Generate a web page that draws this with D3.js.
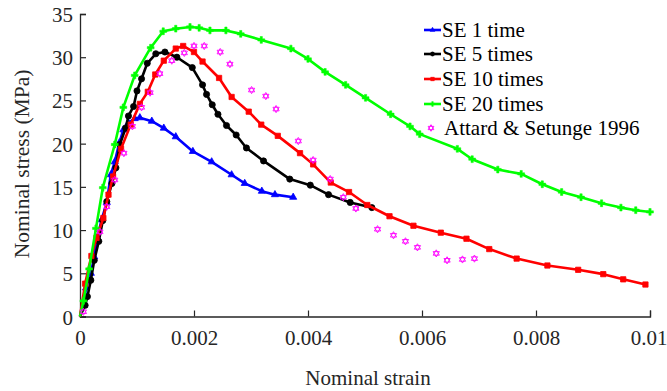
<!DOCTYPE html>
<html>
<head>
<meta charset="utf-8">
<script src="https://cdn.jsdelivr.net/npm/d3@7"></script>
<style>
  body { margin: 0; background: #fff; }
  svg { display: block; font-family: "Liberation Serif", "Times New Roman", serif; }
</style>
</head>
<body>
<svg id="chart" width="667" height="391"></svg>
<script>
// axis ticks
const xTicks = [0, 0.002, 0.004, 0.006, 0.008, 0.01];
const yTicks = [0, 5, 10, 15, 20, 25, 30, 35];

// SE 1 time
const se1Strain = [0, 0.00007, 0.000105, 0.00019, 0.00025, 0.0003, 0.00038, 0.00047, 0.00054, 0.00061, 0.00069, 0.00076, 0.00085, 0.00096, 0.00105, 0.00126, 0.00147, 0.00168, 0.00198, 0.00231, 0.00266, 0.00289, 0.00319, 0.00342, 0.00374];
const se1Stress = [0, 1.3, 3.3, 5.0, 6.9, 9.1, 11.2, 13.2, 16.4, 17.9, 20.1, 21.6, 22.4, 22.9, 23.0, 22.6, 21.8, 20.8, 19.1, 17.9, 16.4, 15.4, 14.5, 14.1, 13.8];

// SE 5 times
const se5Strain = [0, 0.00009, 0.00013, 0.00019, 0.00025, 0.00033, 0.0004, 0.00047, 0.00056, 0.00063, 0.0007, 0.0008, 0.00085, 0.00094, 0.001, 0.00108, 0.00118, 0.00133, 0.00149, 0.0017, 0.00197, 0.00215, 0.00222, 0.00232, 0.00242, 0.00257, 0.00274, 0.00292, 0.00322, 0.00368, 0.00404, 0.00436, 0.00474, 0.00512];
const se5Stress = [0, 1.3, 2.3, 4.2, 6.5, 8.7, 11.1, 13.3, 15.4, 17.2, 19.9, 21.8, 23.2, 24.3, 26.1, 27.5, 29.3, 30.4, 30.6, 30.0, 28.8, 26.8, 25.7, 24.5, 23.4, 22.1, 21.0, 19.5, 18.0, 15.9, 15.2, 14.1, 13.2, 12.6];

// SE 10 times
const se10Strain = [0, 0.00009, 0.0002, 0.00029, 0.00041, 0.0005, 0.00058, 0.00072, 0.00089, 0.00105, 0.00119, 0.00132, 0.00147, 0.00168, 0.00181, 0.002, 0.00215, 0.00244, 0.00266, 0.00296, 0.00318, 0.00347, 0.00386, 0.00409, 0.0044, 0.00472, 0.00504, 0.00543, 0.00585, 0.00633, 0.00678, 0.00718, 0.00766, 0.0082, 0.00874, 0.00918, 0.00953, 0.00992];
const se10Stress = [0, 3.8, 7.0, 9.1, 11.4, 14.1, 16.2, 19.4, 22.2, 24.6, 26.0, 28.0, 29.6, 31.0, 31.3, 30.6, 29.5, 27.6, 25.4, 23.7, 22.2, 20.9, 18.9, 17.6, 15.5, 14.4, 12.9, 11.6, 10.5, 9.7, 9.0, 7.8, 6.7, 5.9, 5.4, 4.9, 4.3, 3.7];

// SE 20 times
const se20Strain = [0, 0.00006, 0.00016, 0.00028, 0.0004, 0.00061, 0.00076, 0.00096, 0.00124, 0.00146, 0.00168, 0.00193, 0.00209, 0.00228, 0.00256, 0.00282, 0.00318, 0.0037, 0.004, 0.0043, 0.00466, 0.00501, 0.00545, 0.00579, 0.00596, 0.00662, 0.00688, 0.00733, 0.00774, 0.00811, 0.00845, 0.00879, 0.00915, 0.00949, 0.00975, 0.01];
const se20Stress = [0, 1.8, 5.5, 10.2, 14.9, 19.9, 24.2, 27.9, 31.1, 33.0, 33.3, 33.5, 33.4, 33.1, 33.1, 32.7, 32.0, 31.0, 29.8, 28.3, 26.8, 25.3, 23.4, 22.0, 21.1, 19.4, 18.2, 17.0, 16.5, 15.3, 14.4, 13.8, 13.1, 12.6, 12.3, 12.1];

// Attard & Setunge 1996
const attStrain = [0.00006, 0.00035, 0.00047, 0.00061, 0.00077, 0.00092, 0.00108, 0.00123, 0.0014, 0.00161, 0.00183, 0.002, 0.00218, 0.00246, 0.00263, 0.00301, 0.00326, 0.00344, 0.00383, 0.00409, 0.00439, 0.00462, 0.00484, 0.00522, 0.0055, 0.00571, 0.00592, 0.00625, 0.00644, 0.00671, 0.00692];
const attStress = [0.55, 9.8, 12.7, 15.8, 18.9, 22.0, 24.2, 25.9, 28.1, 29.6, 30.5, 31.3, 31.3, 30.6, 29.2, 26.2, 25.5, 24.0, 20.3, 18.1, 15.9, 13.8, 12.5, 10.1, 9.4, 8.7, 8.0, 7.3, 6.5, 6.6, 6.7];

const seriesNames = ['SE 1 time', 'SE 5 times', 'SE 10 times', 'SE 20 times'];
const attName = 'Attard & Setunge 1996';

const svg = d3.select('#chart');
const x = d3.scaleLinear().domain([0, 0.01]).range([80, 650]);
const y = d3.scaleLinear().domain([0, 35]).range([316.5, 14]);

const zip = (a, b) => a.map((v, i) => [v, b[i]]);
const series = [
  { name: seriesNames[0], data: zip(se1Strain, se1Stress), color: '#0000ff', marker: 'tri' },
  { name: seriesNames[1], data: zip(se5Strain, se5Stress), color: '#000000', marker: 'dot' },
  { name: seriesNames[2], data: zip(se10Strain, se10Stress), color: '#ff0000', marker: 'sq' },
  { name: seriesNames[3], data: zip(se20Strain, se20Stress), color: '#00ff00', marker: 'plus' }
];
const attData = zip(attStrain, attStress);

function markerPath(type) {
  if (type === 'tri') return d3.symbol(d3.symbolTriangle, 22)();
  if (type === 'dot') return d3.symbol(d3.symbolCircle, 30)();
  if (type === 'sq') return d3.symbol(d3.symbolSquare, 28)();
  return d3.symbol(d3.symbolCross, 26)();
}
function hexagram(r) {
  const up = d3.range(3).map(k => [r * Math.sin(k * 2 * Math.PI / 3), -r * Math.cos(k * 2 * Math.PI / 3)]);
  const dn = up.map(p => [p[0], -p[1]]);
  return 'M' + up.join('L') + 'Z' + 'M' + dn.join('L') + 'Z';
}

// Axes
const axisColor = '#262626';
const xAxis = svg.append('g')
  .attr('transform', `translate(0, ${y(0)})`)
  .call(d3.axisBottom(x).tickValues(xTicks).tickSize(-6).tickPadding(14)
    .tickFormat(d => d === 0 ? '0' : d === 0.01 ? '0.01' : d3.format('.3f')(d)));
const yAxis = svg.append('g')
  .attr('transform', `translate(${x(0)}, 0)`)
  .call(d3.axisLeft(y).tickValues(yTicks).tickSize(-6).tickPadding(7));
[xAxis, yAxis].forEach(g => {
  g.select('.domain').attr('stroke', axisColor).attr('stroke-width', 1.3);
  g.selectAll('.tick line').attr('stroke', axisColor).attr('stroke-width', 1.2);
  g.selectAll('.tick text').attr('fill', '#262626').style('font-size', '21px')
    .style('font-family', '"Liberation Serif", serif');
});
xAxis.selectAll('.tick text').attr('dy', '0.71em');
// keep the last label inside the page
xAxis.selectAll('.tick text').filter(d => d === 0.01).attr('text-anchor', 'end').attr('dx', 17);
yAxis.selectAll('.tick text').attr('dy', '0.36em');

// Labels
svg.append('text')
  .attr('x', 368).attr('y', 385)
  .attr('text-anchor', 'middle')
  .attr('fill', '#262626')
  .style('font-size', '21px')
  .text('Nominal strain');
svg.append('text')
  .attr('transform', 'rotate(-90)')
  .attr('x', -164).attr('y', 29)
  .attr('text-anchor', 'middle')
  .attr('fill', '#262626')
  .style('font-size', '21.5px')
  .text('Nominal stress (MPa)');

// Lines
const line = d3.line().x(d => x(d[0])).y(d => y(d[1]));
const plot = svg.append('g');
series.forEach(s => {
  plot.append('path')
    .datum(s.data)
    .attr('fill', 'none')
    .attr('stroke', s.color)
    .attr('stroke-width', 2.6)
    .attr('stroke-linejoin', 'round')
    .attr('d', line);
  plot.selectAll(null)
    .data(s.data.slice(1))
    .enter().append('path')
    .attr('transform', d => `translate(${x(d[0])}, ${y(d[1])})`)
    .attr('d', markerPath(s.marker))
    .attr('fill', s.color)
    .attr('stroke', s.color)
    .attr('stroke-width', s.marker === 'plus' ? 0.5 : 0.8);
});

// Attard markers
plot.selectAll(null)
  .data(attData)
  .enter().append('path')
  .attr('transform', d => `translate(${x(d[0])}, ${y(d[1])})`)
  .attr('d', hexagram(3.6))
  .attr('fill', 'none')
  .attr('stroke', '#ff00ff')
  .attr('stroke-width', 0.9);

// Legend
const legend = svg.append('g');
const rowY = [30, 54, 79, 104, 128];
series.forEach((s, i) => {
  const g = legend.append('g').attr('transform', `translate(0, ${rowY[i]})`);
  g.append('line').attr('x1', 424).attr('x2', 441).attr('y1', 0).attr('y2', 0)
    .attr('stroke', s.color).attr('stroke-width', 2.6);
  g.append('path')
    .attr('d', markerPath(s.marker)).attr('fill', s.color).attr('stroke', s.color).attr('stroke-width', 0.5)
    .attr('transform', 'translate(432.5, 0) scale(0.7)');
  g.append('text').attr('x', 442).attr('y', 0).attr('dy', '0.35em')
    .attr('fill', '#000').style('font-size', '21px').text(s.name);
});
const ga = legend.append('g').attr('transform', `translate(0, ${rowY[4]})`);
ga.append('path').attr('transform', 'translate(431, 0)').attr('d', hexagram(3.3))
  .attr('fill', 'none').attr('stroke', '#ff00ff').attr('stroke-width', 0.9);
ga.append('text').attr('x', 444).attr('y', 0).attr('dy', '0.35em')
  .attr('fill', '#000').style('font-size', '21px').text(attName);
</script>
</body>
</html>
